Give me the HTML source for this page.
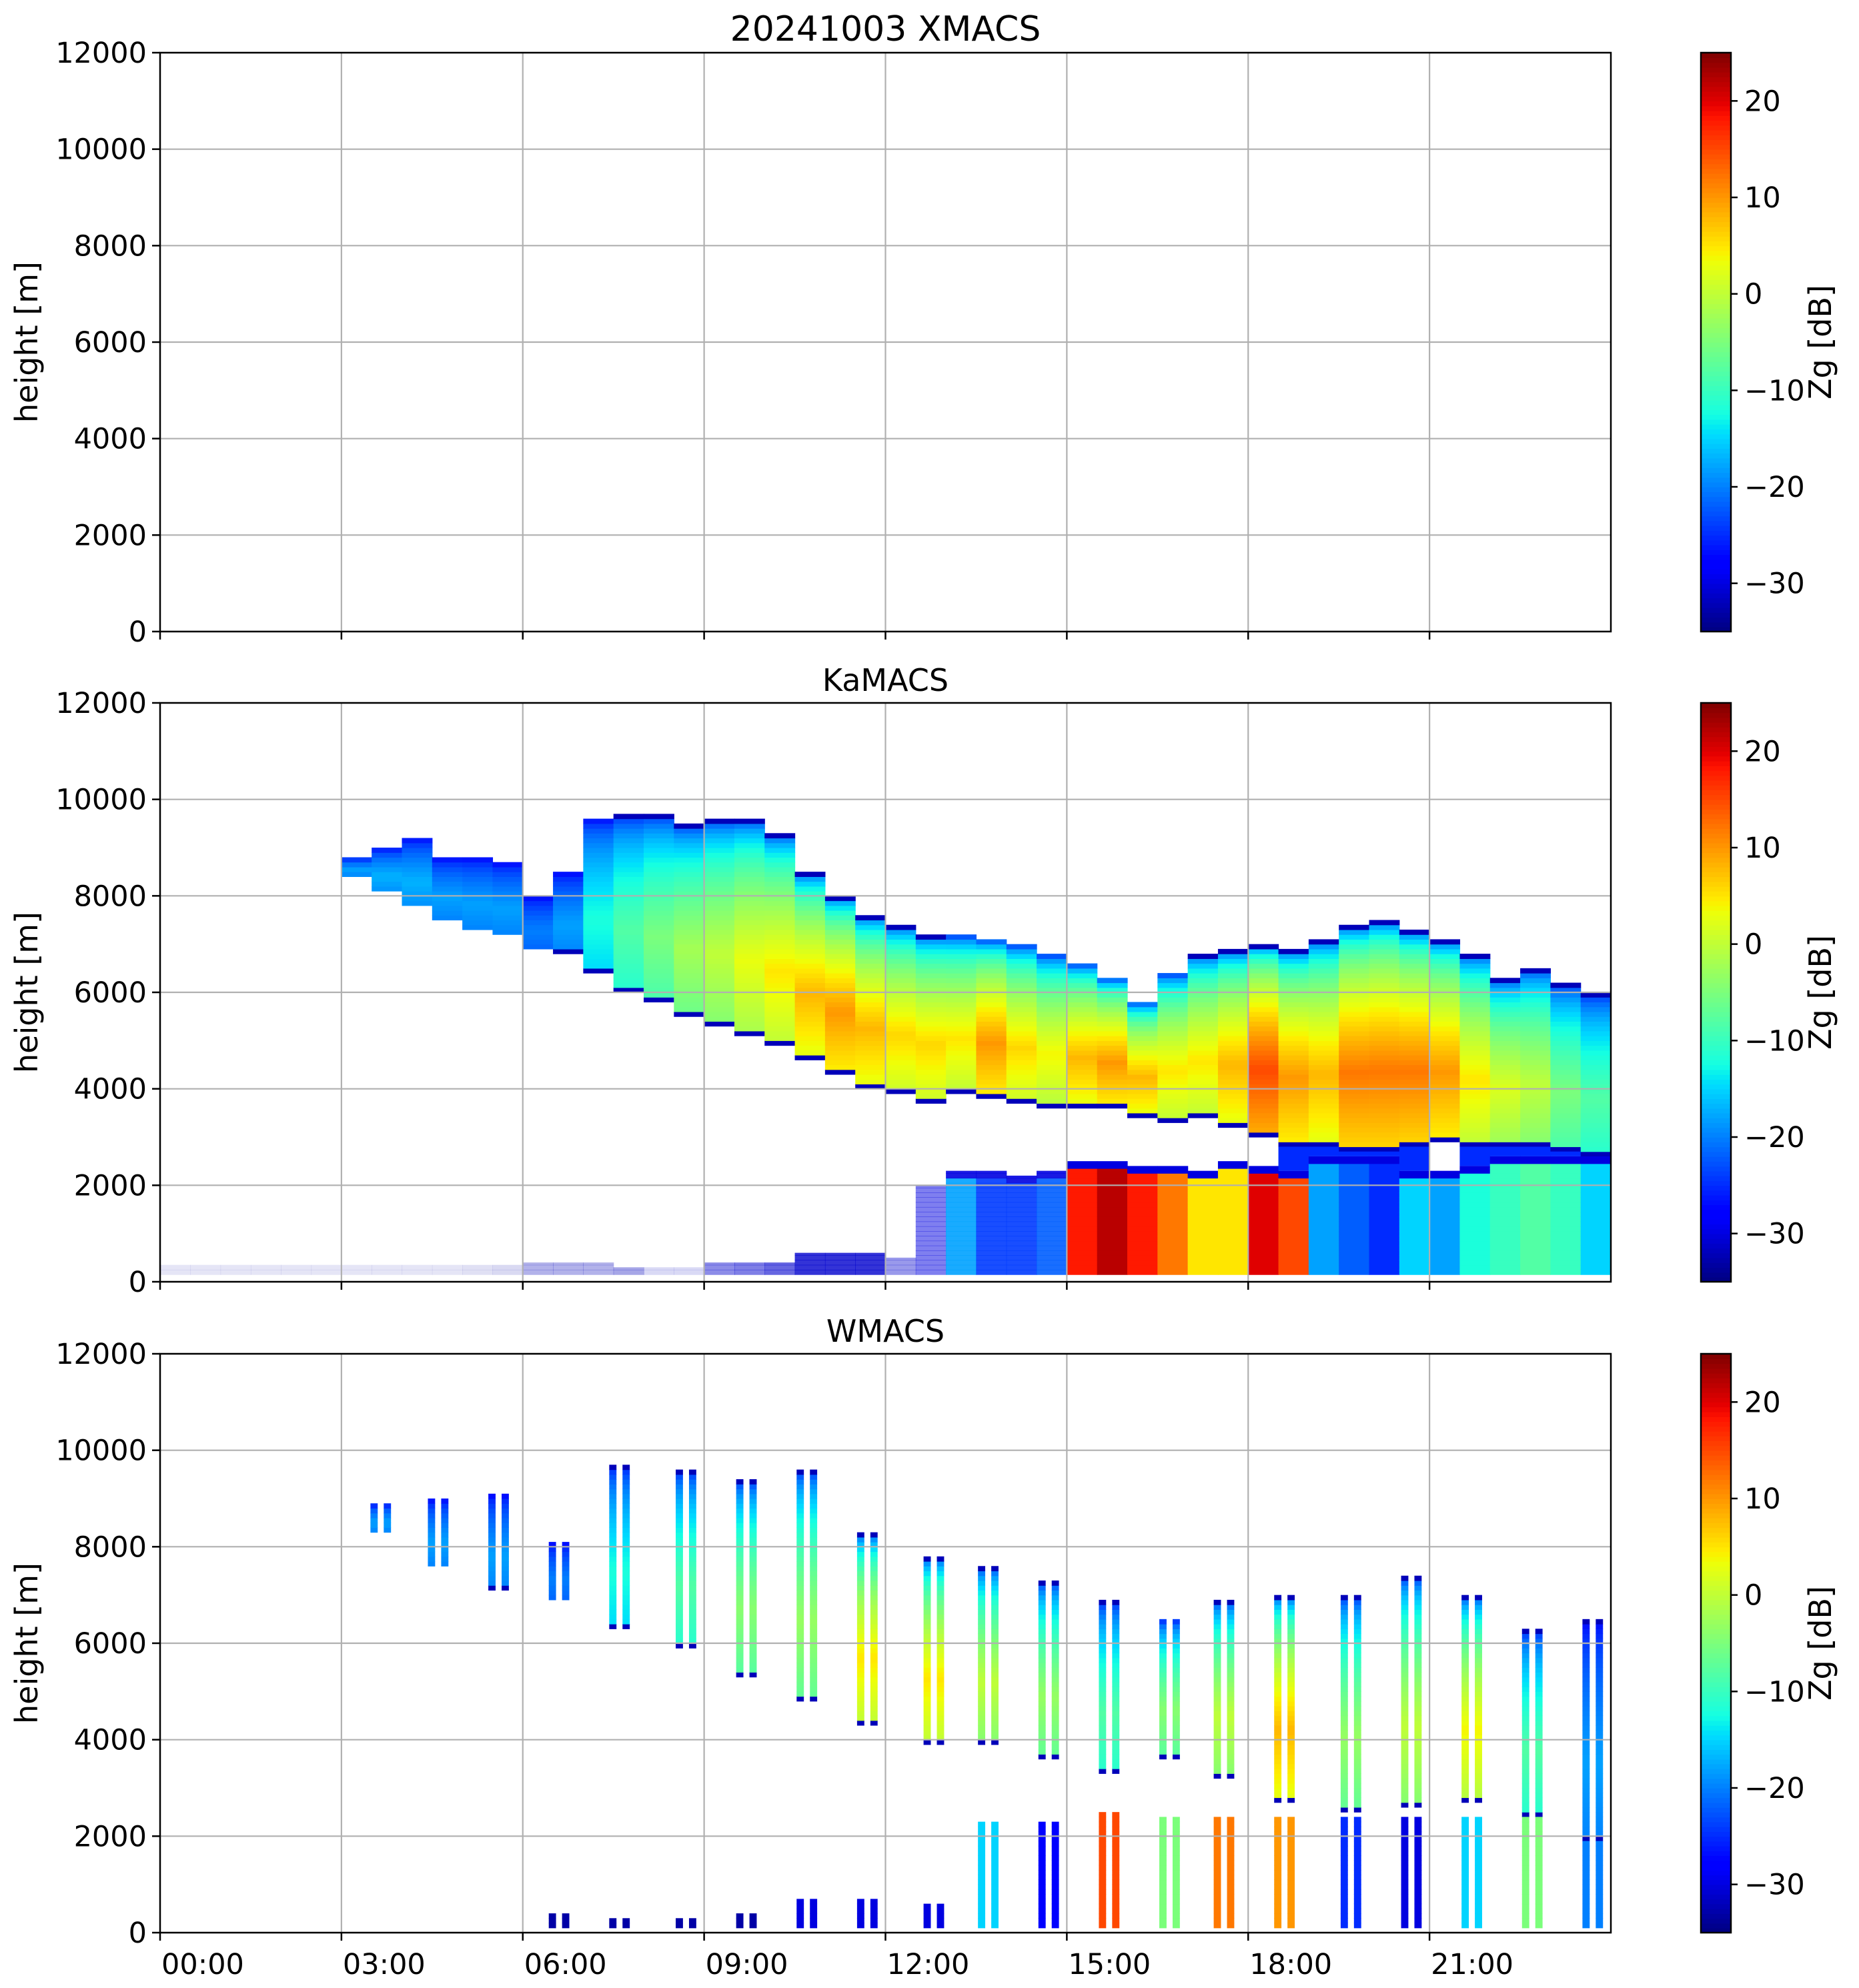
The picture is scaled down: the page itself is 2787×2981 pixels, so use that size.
<!DOCTYPE html>
<html><head><meta charset="utf-8"><title>20241003 XMACS</title>
<style>
html,body{margin:0;padding:0;background:#fff;}
svg{display:block;font-family:"DejaVu Sans","Liberation Sans",sans-serif;}
</style></head>
<body>
<svg id="fig" width="2787" height="2981" viewBox="0 0 2787 2981" xmlns="http://www.w3.org/2000/svg"></svg>
<script>
// ---------- data ----------
const heightTicks = [0, 2000, 4000, 6000, 8000, 10000, 12000];
const timeTickLabels = ["00:00","03:00","06:00","09:00","12:00","15:00","18:00","21:00"];
const timeTickHours = [0,3,6,9,12,15,18,21];
const cbarTicks = [-30,-20,-10,0,10,20];
const panelTitles = ["20241003 XMACS","KaMACS","WMACS"];

// KaMACS upper cloud, 30-min columns starting 00:00 (km, dB)
const kaTop  = [null,null,null,null,null,null,8.8,9.0,9.2,8.8,8.8,8.7,8.0,8.5,9.6,9.7,9.7,9.5,9.6,9.6,9.3,8.5,8.0,7.6,7.4,7.2,7.2,7.1,7.0,6.8,6.6,6.3,5.8,6.4,6.8,6.9,7.0,6.9,7.1,7.4,7.5,7.3,7.1,6.8,6.3,6.5,6.2,6.0];
const kaBase = [null,null,null,null,null,null,8.4,8.1,7.8,7.5,7.3,7.2,6.9,6.8,6.4,6.0,5.8,5.5,5.3,5.1,4.9,4.6,4.3,4.0,3.9,3.7,3.9,3.8,3.7,3.6,3.6,3.6,3.4,3.3,3.4,3.2,3.0,2.8,2.8,2.7,2.7,2.8,2.9,2.8,2.8,2.8,2.7,2.6];
const kaPeak = [null,null,null,null,null,null,-18,-17,-17,-18,-18,-18,-20,-18,-12,-8,-5,-2,0,3,5,8,10,8,6,6,5,10,6,4,8,10,8,5,5,8,15,10,8,12,12,12,10,5,2,0,-5,-8];
// KaMACS low-level layer (km, dB, coverage)
const kaLowTop = [0.35,0.35,0.35,0.35,0.35,0.35,0.35,0.35,0.35,0.35,0.35,0.35,0.4,0.4,0.4,0.3,0.3,0.3,0.4,0.4,0.4,0.6,0.6,0.6,0.5,2.0,2.3,2.3,2.2,2.3,2.5,2.5,2.4,2.4,2.3,2.5,2.4,2.3,2.6,2.6,2.6,2.3,2.3,2.4,2.6,2.6,2.6,2.6];
const kaLowDb  = [-33,-33,-33,-33,-33,-33,-33,-33,-33,-33,-33,-33,-32,-32,-32,-32,-32,-32,-31,-31,-31,-31,-31,-31,-31,-30,-18,-24,-24,-22,18,22,18,12,5,5,20,15,-18,-22,-25,-15,-18,-12,-10,-8,-10,-15];
const kaLowCov = [0.1,0.1,0.1,0.1,0.1,0.1,0.1,0.1,0.1,0.1,0.12,0.15,0.3,0.3,0.3,0.35,0.15,0.15,0.45,0.5,0.6,0.8,0.8,0.8,0.4,0.5,0.9,0.9,0.9,0.9,1,1,1,1,1,1,1,1,1,1,1,1,1,1,1,1,1,1];

// WMACS stripes (hour centre, km, dB)
const wTime = [3.65,4.6,5.6,6.6,7.6,8.7,9.7,10.7,11.7,12.8,13.7,14.7,15.7,16.7,17.6,18.6,19.7,20.7,21.7,22.7,23.7];
const wTop  = [8.9,9.0,9.1,8.1,9.7,9.6,9.4,9.6,8.3,7.8,7.6,7.3,6.9,6.5,6.9,7.0,7.0,7.4,7.0,6.3,6.5];
const wBase = [8.3,7.6,7.1,6.9,6.3,5.9,5.3,4.8,4.3,3.9,3.9,3.6,3.3,3.6,3.2,2.7,2.5,2.6,2.7,2.4,1.9];
const wPeak = [-18,-18,-18,-20,-12,-8,-4,-3,5,5,0,-3,-8,-4,0,8,-3,0,4,-8,-18];
const wLowTop = [0,0,0,0.4,0.3,0.3,0.4,0.7,0.7,0.6,2.3,2.3,2.5,2.4,2.4,2.4,2.4,2.4,2.4,2.4,1.9];
const wLowDb  = [0,0,0,-33,-33,-33,-33,-30,-30,-30,-15,-28,15,-5,12,10,-25,-30,-15,-5,-20];

// ---------- layout ----------
const NS = "http://www.w3.org/2000/svg";
const fig = document.getElementById("fig");
const AX_L = 240, AX_R = 2415, AX_H = 868;
const tops = [79, 1054, 2030];
const CB_L = 2550, CB_R = 2595;
function xS(h){ return AX_L + h/24*(AX_R-AX_L); }
function yS(p, km){ return tops[p] + AX_H - km/12*AX_H; }
function cbY(p, v){ return tops[p] + (25 - v)/60*AX_H; }

function interp(pts, x){
  for(let i=1;i<pts.length;i++){ if(x<=pts[i][0]){ const a=pts[i-1], b=pts[i]; return a[1]+(b[1]-a[1])*(x-a[0])/(b[0]-a[0]); } }
  return pts[pts.length-1][1];
}
function jet(v){
  let x = Math.max(0, Math.min(1, (v+35)/60));
  const r = interp([[0,0],[0.35,0],[0.66,1],[0.89,1],[1,0.5]], x);
  const g = interp([[0,0],[0.125,0],[0.375,1],[0.64,1],[0.91,0],[1,0]], x);
  const b = interp([[0,0.5],[0.11,1],[0.34,1],[0.65,0],[1,0]], x);
  return "rgb("+Math.round(r*255)+","+Math.round(g*255)+","+Math.round(b*255)+")";
}
function el(tag, attrs, parent){
  const e = document.createElementNS(NS, tag);
  for(const k in attrs) e.setAttribute(k, attrs[k]);
  (parent||fig).appendChild(e);
  return e;
}
function upperDb(h, base, top, peak){
  const f = (h-base)/(top-base);
  if(f < 0.03 || f > 0.985) return -32;
  let s;
  if(f > 0.35) s = Math.pow((1-f)/0.65, 0.4); else s = 0.85 + 0.15*(f/0.35);
  return -30 + (peak+30)*s;
}

const DZ = 0.1;
for(let p=0;p<3;p++){
  const g = el("g", {});
  
  
  const data = el("g", {}, g);
  
  

  if(p===1){
    for(let i=0;i<kaTop.length;i++){
      const x0 = xS(i*0.5), x1 = xS(i*0.5+0.5);
      if(kaTop[i]!==null){
        for(let z=kaBase[i]; z<kaTop[i]-1e-6; z+=DZ){
          const zt = Math.min(z+DZ, kaTop[i]);
          const c = el("rect", {x:x0, y:yS(1,zt), width:x1-x0+0.6, height:yS(1,z)-yS(1,zt)+0.6, fill:jet(upperDb(z+DZ/2,kaBase[i],kaTop[i],kaPeak[i]))}, data);
          
          
        }
      }
      const lt = kaLowTop[i];
      for(let z=0.15; z<lt-1e-6; z+=DZ){
        const zt = Math.min(z+DZ, lt);
        const v = (lt - z) < 0.15 && lt > 1 ? -30 : kaLowDb[i];
        const c = el("rect", {x:x0, y:yS(1,zt), width:x1-x0+0.6, height:yS(1,z)-yS(1,zt)+0.6, fill:jet(v), "fill-opacity":kaLowCov[i]}, data);
        
        
      }
      if(kaTop[i]!==null && lt>1 && kaBase[i]-lt < 0.6 && kaBase[i]>lt){
        const c = el("rect", {x:x0, y:yS(1,kaBase[i]), width:x1-x0+0.6, height:yS(1,lt)-yS(1,kaBase[i]), fill:jet(-25)}, data);
        
        
      }
    }
  }
  if(p===2){
    for(let i=0;i<wTime.length;i++){
      for(const off of [-0.17, 0.05]){
        const x0 = xS(wTime[i]+off), x1 = xS(wTime[i]+off+0.12);
        for(let z=wBase[i]; z<wTop[i]-1e-6; z+=DZ){
          const zt = Math.min(z+DZ, wTop[i]);
          const c = el("rect", {x:x0, y:yS(2,zt), width:x1-x0, height:yS(2,z)-yS(2,zt)+0.6, fill:jet(upperDb(z+DZ/2,wBase[i],wTop[i],wPeak[i]))}, data);
          
          
        }
        const lt = wLowTop[i];
        for(let z=0.1; z<lt-1e-6; z+=DZ){
          const zt = Math.min(z+DZ, lt);
          const c = el("rect", {x:x0, y:yS(2,zt), width:x1-x0, height:yS(2,z)-yS(2,zt)+0.6, fill:jet(wLowDb[i])}, data);
          
          
        }
      }
    }
  }

  for(const h of timeTickHours){
    if(h===0) continue;
    const l = el("line", {x1:xS(h), x2:xS(h), y1:tops[p], y2:tops[p]+AX_H, stroke:"#b0b0b0", "stroke-width":2.2}, g);
    
    
  }
  for(const v of heightTicks){
    const y = yS(p, v/1000);
    const l = el("line", {x1:AX_L, x2:AX_R, y1:y, y2:y, stroke:"#b0b0b0", "stroke-width":2.2}, g);
    
    
    const t = el("line", {x1:AX_L-12, x2:AX_L, y1:y, y2:y, stroke:"#000", "stroke-width":2.5}, g);
    
    
    const tx = el("text", {x:AX_L-20, y:y+15, "text-anchor":"end", "font-size":43}, g);
    tx.textContent = String(v);
    
    
  }
  for(const h of timeTickHours){
    const t = el("line", {x1:xS(h), x2:xS(h), y1:tops[p]+AX_H, y2:tops[p]+AX_H+12, stroke:"#000", "stroke-width":2.5}, g);
    
    
  }
  if(p===2){
    timeTickHours.forEach((h,k)=>{
      const tx = el("text", {x:xS(h)+2, y:tops[p]+AX_H+62, "font-size":43}, g);
      tx.textContent = timeTickLabels[k];
      
      
    });
  }
  const fr = el("rect", {x:AX_L, y:tops[p], width:AX_R-AX_L, height:AX_H, fill:"none", stroke:"#000", "stroke-width":2.5}, g);
  
  

  const yl = el("text", {x:0, y:0, transform:"translate(56,"+(tops[p]+AX_H/2)+") rotate(-90)", "text-anchor":"middle", "font-size":46}, g);
  yl.textContent = "height [m]";
  
  

  const tt = el("text", {x:(AX_L+AX_R)/2, y:tops[p]-18, "text-anchor":"middle", "font-size":p===0?52:46}, g);
  tt.textContent = panelTitles[p];
  
  

  const cb = el("g", {}, g);
  
  
  const N = 120;
  for(let k=0;k<N;k++){
    const v0 = -35 + k*60/N;
    const r = el("rect", {x:CB_L, y:cbY(p, v0+60/N), width:CB_R-CB_L, height:AX_H/N+0.8, fill:jet(v0+30/N)}, cb);
    
    
  }
  const cbf = el("rect", {x:CB_L, y:tops[p], width:CB_R-CB_L, height:AX_H, fill:"none", stroke:"#000", "stroke-width":2.5}, cb);
  
  
  for(const v of cbarTicks){
    const y = cbY(p, v);
    const t = el("line", {x1:CB_R, x2:CB_R+10, y1:y, y2:y, stroke:"#000", "stroke-width":2.5}, cb);
    
    
    const tx = el("text", {x:CB_R+20, y:y+15, "font-size":43}, cb);
    tx.textContent = v<0 ? "\u2212"+Math.abs(v) : String(v);
    
    
  }
  const cl = el("text", {x:0, y:0, transform:"translate(2745,"+(tops[p]+AX_H/2)+") rotate(-90)", "text-anchor":"middle", "font-size":46}, cb);
  cl.textContent = "Zg [dB]";
  
  
}
</script>
</body></html>
